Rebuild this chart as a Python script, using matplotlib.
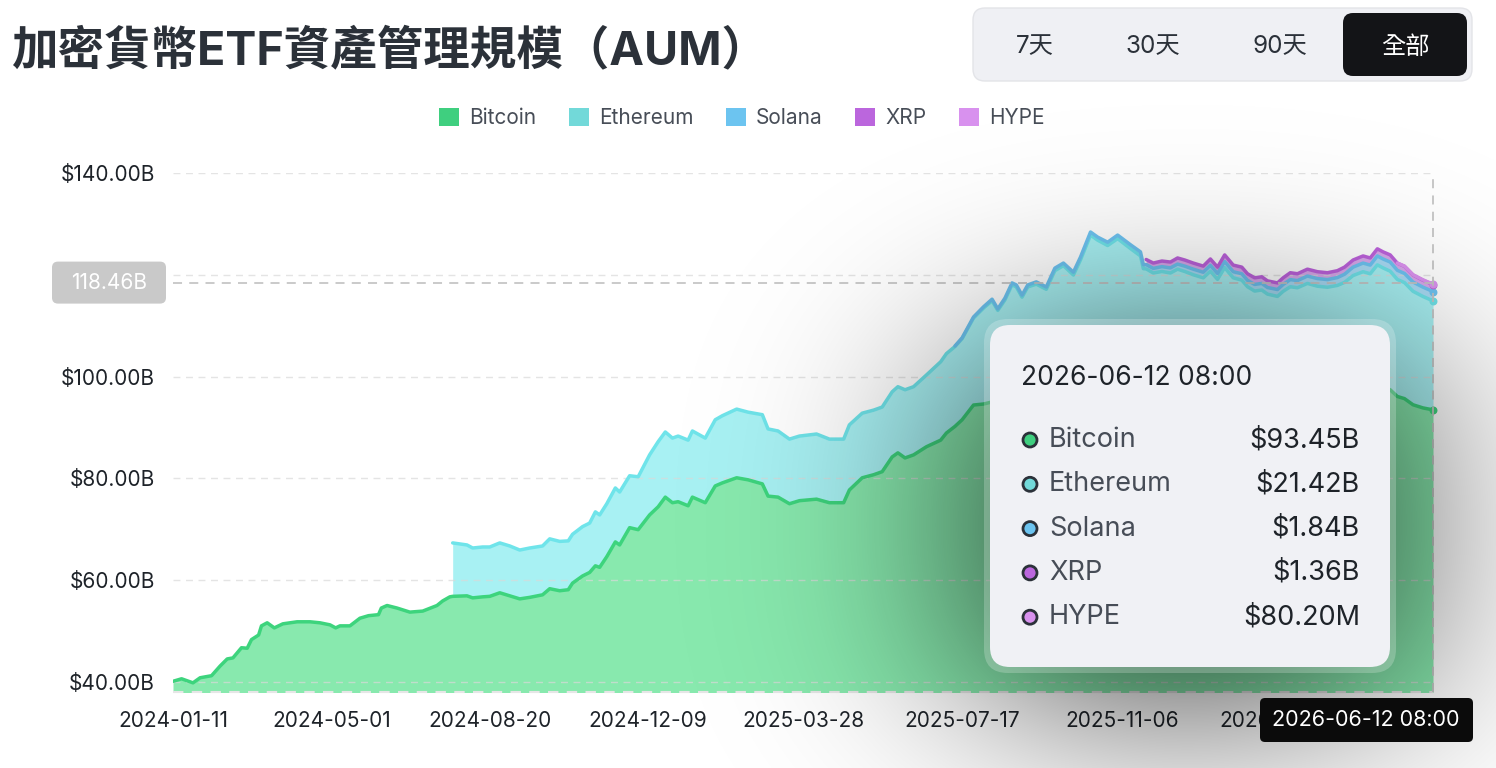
import math
import numpy as np
import pandas as pd
import matplotlib
matplotlib.use("Agg")
import matplotlib.pyplot as plt
from matplotlib.patches import FancyBboxPatch, Circle, Patch

plt.rcParams['font.family'] = ['Inter', 'Noto Sans CJK TC', 'DejaVu Sans']

# --- datos (días desde 2024-01-11, valores en miles de millones USD) ---
start_date = '2024-01-11'
days = [0, 6, 14, 19, 27, 33, 38, 42, 48, 52, 55, 60, 62, 66, 71, 77, 87, 96, 103, 110,
        114, 117, 124, 131, 137, 144, 146, 150, 157, 166, 175, 185, 189, 194,
        196, 206, 210, 217, 222, 229, 236, 243, 250, 259, 264, 271, 277, 280, 287, 292,
        296, 299, 304, 310, 313, 320, 326, 334, 340, 345, 350, 354, 361, 364, 373, 380,
        385, 395, 403, 413, 417, 424, 432, 439, 451, 460, 470, 474, 483, 491, 497, 504,
        508, 513, 519, 528, 538, 542,
        548, 553, 561, 568, 574, 578, 583, 588, 591, 595, 599, 605, 612, 618, 624, 631,
        636, 643, 648, 655, 662, 671, 678, 680,
        682, 687, 693, 699, 704, 709, 715, 722, 727, 732, 737, 743, 749, 753, 758, 763,
        767, 774, 778, 783, 788, 795, 802, 809, 816, 821, 827, 834, 839, 844, 848, 853,
        858, 863, 869, 876, 883]

btc = [40.1, 40.6, 39.8, 40.8, 41.2, 43.1, 44.5, 44.7, 46.7, 46.6, 48.3, 49.2, 51.0, 51.6,
       50.6, 51.4, 51.8, 51.8, 51.6, 51.2, 50.6, 51.0, 51.0, 52.5, 53.0, 53.2, 54.5, 55.0,
       54.5, 53.7, 53.9, 55.0, 55.9, 56.7,
       56.8, 56.9, 56.5, 56.7, 56.8, 57.5, 56.9, 56.3, 56.6, 57.1, 58.3, 57.9, 58.1, 59.4,
       60.8, 61.5, 62.8, 62.5, 64.6, 67.5, 66.9, 70.3, 69.9, 72.8, 74.4, 76.3, 75.2, 75.4,
       74.6, 76.3, 75.2, 78.5, 79.1, 80.1, 79.7, 78.9, 76.5, 76.3, 75.0, 75.6, 75.9, 75.2,
       75.2, 77.7, 80.1, 80.7, 81.3, 84.2, 85.0, 84.0, 84.6, 86.2, 87.5, 88.9,
       90.2, 91.5, 94.4, 94.6, 95.0, 93.8, 94.8, 96.8, 96.2, 94.6, 95.6, 95.6, 94.4, 96.8,
       97.3, 95.6, 98.0, 101.6, 100.8, 100.0, 101.2, 99.8, 98.8, 97.0,
       97.05, 96.35, 96.75, 96.55, 97.2, 96.85, 96.4, 96.0, 97.0, 95.8, 97.6, 96.1, 95.85,
       94.85, 94.2, 94.4, 93.8, 93.45, 94.25, 94.95, 94.75, 95.4, 94.95, 94.75, 95.0, 95.5,
       96.55, 97.1, 96.8, 98.15, 97.75, 97.4,
       96.08, 95.66, 94.45, 93.83, 93.45]

eth = [None] * 34 + [
       10.5, 10.0, 9.8, 9.8, 9.7, 9.8, 9.8, 9.6, 9.7, 9.6, 9.8, 9.7, 9.6, 9.6, 9.7, 9.7,
       10.6, 10.3, 10.4, 10.6, 10.4, 10.2, 10.4, 11.8, 12.8, 12.8, 12.7, 12.9, 12.9, 13.0,
       12.7, 13.0, 13.2, 13.5, 13.3, 13.6, 13.2, 13.0, 12.7, 12.7, 12.8, 12.5, 12.5, 12.8,
       12.7, 12.7, 12.7, 12.8, 13.0, 13.4, 13.4, 14.1, 15.4, 15.6,
       15.7, 15.95, 17.1, 18.85, 19.9, 19.2, 20.25, 21.25, 21.4, 21.0, 22.0, 22.55, 22.75,
       24.0, 24.5, 24.35, 24.95, 26.2, 26.0, 25.75, 25.9, 25.35, 24.9, 24.2,
       24.1, 24.0, 23.9, 23.8, 23.9, 23.8, 23.6, 23.4, 23.7, 23.3, 23.8, 23.3, 23.1, 22.8,
       22.6, 22.6, 22.4, 22.3, 22.5, 22.7, 22.7, 22.9, 22.8, 22.8, 22.9, 23.0, 23.3, 23.5,
       23.4, 23.8, 23.6, 23.3,
       23.0, 22.8, 22.3, 21.9, 21.42]

sol = [None] * 88 + [
       0.1, 0.15, 0.2, 0.25, 0.3, 0.3, 0.35, 0.35, 0.4, 0.4, 0.4, 0.45, 0.45, 0.5, 0.5,
       0.55, 0.55, 0.6, 0.6, 0.65, 0.7, 0.75, 0.8, 0.8,
       0.85, 0.9, 0.95, 1.0, 1.0, 1.05, 1.1, 1.1, 1.15, 1.15, 1.2, 1.2, 1.25, 1.25, 1.3,
       1.3, 1.3, 1.35, 1.35, 1.4, 1.4, 1.45, 1.5, 1.5, 1.55, 1.6, 1.65, 1.7, 1.7, 1.75,
       1.75, 1.8,
       1.8, 1.8, 1.82, 1.83, 1.84]

xrp = [None] * 112 + [
       1.0, 1.05, 1.1, 1.15, 1.2, 1.2, 1.2, 1.2, 1.25, 1.25, 1.3, 1.3, 1.3, 1.3, 1.3, 1.3,
       1.3, 1.3, 1.3, 1.35, 1.35, 1.35, 1.35, 1.35, 1.35, 1.4, 1.4, 1.4, 1.4, 1.4, 1.4, 1.4,
       1.4, 1.4, 1.38, 1.37, 1.36]

hype = [None] * 144 + [0.02, 0.04, 0.05, 0.07, 0.0802]

names = ['Bitcoin', 'Ethereum', 'Solana', 'XRP', 'HYPE']
series = [btc, eth, sol, xrp, hype]
line_colors = ['#3dd47d', '#6fe4ea', '#6ec4f2', '#bd62dc', '#dd93f0']
fill_colors = ['#88e9ae', '#a8f1f3', '#a9dcf6', '#d9a9ec', '#efcaf8']
swatch_colors = ['#3fcf7f', '#72d9d9', '#6cc4f0', '#bb66dd', '#d891ee']

tick_dates = ['2024-01-11', '2024-05-01', '2024-08-20', '2024-12-09', '2025-03-28',
              '2025-07-17', '2025-11-06', '2026-02-25']
grid_levels = [40, 60, 80, 100, 120, 140]
y_ticks = [40, 60, 80, 100, 140]   # la de 120 queda tapada por la etiqueta del cursor
cursor_value = 118.46

dates = pd.Timestamp(start_date) + pd.to_timedelta(days, unit='D')

W, H = 1496, 768
fig = plt.figure(figsize=(W / 100, H / 100), dpi=100)
ax = fig.add_axes([173 / W, 1 - 692 / H, (1433 - 173) / W, (692 - 173) / H])

# --- áreas apiladas ---
base = np.zeros(len(days))
tops = []
for vals, fc in zip(series, fill_colors):
    v = np.array(vals, dtype=float)
    ok = ~np.isnan(v)
    top = base + np.nan_to_num(v)
    ax.fill_between(dates, base, top, where=ok, color=fc, lw=0, zorder=1)
    tops.append(np.where(ok, top, np.nan))
    base = top

for v in grid_levels:
    ax.axhline(v, color='#d9d9d9', lw=1, ls=(0, (5, 4)), alpha=0.7, zorder=2)
ax.axhline(38.0, color='#e6e6e6', lw=1.5, ls=(0, (5, 4)), zorder=2, clip_on=False)

for top, lc in zip(tops, line_colors):
    ax.plot(dates, top, color=lc, lw=2.5, zorder=3,
            solid_joinstyle='round', solid_capstyle='round')
    ax.scatter([dates[-1]], [top[-1]], s=22, color=lc, zorder=4, clip_on=False)

# líneas del cursor
ax.axvline(dates[-1], color='#c6c6c6', lw=1.3, ls=(0, (5, 4)), zorder=5, clip_on=False)
ax.axhline(cursor_value, color='#c6c6c6', lw=1.3, ls=(0, (5, 4)), zorder=5)

ax.set_xlim(dates[0], dates[-1])
ax.set_ylim(38.0, 140.0)
ax.set_yticks(y_ticks)
ax.yaxis.set_major_formatter(lambda v, p: f'${v:.2f}B')
ax.set_xticks(pd.to_datetime(tick_dates))
ax.set_xticklabels(tick_dates)
for s in ax.spines.values():
    s.set_visible(False)
ax.tick_params(axis='both', length=0, labelsize=15, colors='#1e2329')
ax.tick_params(axis='y', pad=13)
ax.tick_params(axis='x', pad=14)
ax.patch.set_alpha(0)

# --- leyenda ---
handles = [Patch(fc=c, ec='none') for c in swatch_colors]
fig.legend(handles, names, ncol=5, loc='center', bbox_to_anchor=(742 / W, 1 - 118 / H),
           frameon=False, fontsize=15, handlelength=0.95, handleheight=0.95,
           handletextpad=0.5, columnspacing=1.55, labelcolor='#474d57')

# --- capa superior en píxeles: título, botones, tooltip ---
ov = fig.add_axes([0, 0, 1, 1], zorder=10)
ov.patch.set_alpha(0)

erf_v = np.vectorize(math.erf)
def soft(t, a, b, s):
    return 0.5 * (erf_v((t - a) / (s * math.sqrt(2))) - erf_v((t - b) / (s * math.sqrt(2))))

xs = np.arange(W) + 0.5
ys = np.arange(H) + 0.5
shadow = np.zeros((H, W, 4))
shadow[..., 3] = 0.75 * np.outer(soft(ys, 345, 705, 95), soft(xs, 980, 1395, 120))
ov.imshow(shadow, extent=(0, W, H, 0), interpolation='bilinear', aspect='auto', zorder=0)

tip_x, tip_y, tip_w, tip_h = 990, 325, 400, 342
ov.add_patch(FancyBboxPatch((tip_x - 6, tip_y - 6), tip_w + 12, tip_h + 12,
                            boxstyle='round,pad=0,rounding_size=24',
                            fc='white', ec='none', alpha=0.22, zorder=1))
ov.add_patch(FancyBboxPatch((tip_x, tip_y), tip_w, tip_h,
                            boxstyle='round,pad=0,rounding_size=20',
                            fc='#f0f1f5', ec='none', zorder=2))
last_date = dates[-1]
ov.text(1021, 378, f'{last_date:%Y-%m-%d} 08:00', fontsize=19, va='center',
        color='#1e2329', zorder=3)
for i, (name, vals, sc) in enumerate(zip(names, series, swatch_colors)):
    y = 440 + i * 44.3
    val = vals[-1]
    txt = f'${val:.2f}B' if val >= 1 else f'${val * 1000:.2f}M'
    ov.add_patch(Circle((1030, y), 7, fc=sc, ec='#2b3139', lw=2.0, zorder=3))
    ov.text(1049, y, name, fontsize=19.5, va='center', color='#474d57', zorder=3)
    ov.text(1360, y, txt, fontsize=19.5, va='center', ha='right', color='#1e2329', zorder=3)

# etiqueta del eje y del cursor
y_disp = ax.transData.transform((0, cursor_value))[1]
yc = H - y_disp
ov.add_patch(FancyBboxPatch((52, yc - 21), 114, 42, boxstyle='round,pad=0,rounding_size=6',
                            fc='#c9c9c9', ec='none', zorder=3))
ov.text(109, yc, f'{cursor_value:.2f}B', fontsize=15, color='white', ha='center',
        va='center', zorder=4)

# etiqueta del eje x del cursor
ov.add_patch(FancyBboxPatch((1260, 698), 213, 44, boxstyle='round,pad=0,rounding_size=5',
                            fc='#0b0b0b', ec='none', zorder=3))
ov.text(1366, 720, f'{last_date:%Y-%m-%d} 08:00', fontsize=15.5, color='white',
        ha='center', va='center', zorder=4)

# título
ov.text(12, 52, '加密貨幣ETF資產管理規模（AUM）', fontsize=33.5, fontweight='bold',
        va='center', color='#2b3139')

# botones de rango
ov.add_patch(FancyBboxPatch((973, 8), 499, 73, boxstyle='round,pad=0,rounding_size=12',
                            fc='#eff0f4', ec='#e3e4e8', lw=1))
ov.add_patch(FancyBboxPatch((1343, 13), 124, 63, boxstyle='round,pad=0,rounding_size=10',
                            fc='#131417', ec='none'))
for label, bx in zip(['7天', '30天', '90天', '全部'], [1035, 1153, 1280, 1405]):
    ov.text(bx, 47, label, fontsize=17.5, ha='center', va='center',
            color='white' if label == '全部' else '#2b3139')

ov.set_xlim(0, W)
ov.set_ylim(H, 0)
ov.axis('off')

fig.savefig('out.png', dpi=100)
